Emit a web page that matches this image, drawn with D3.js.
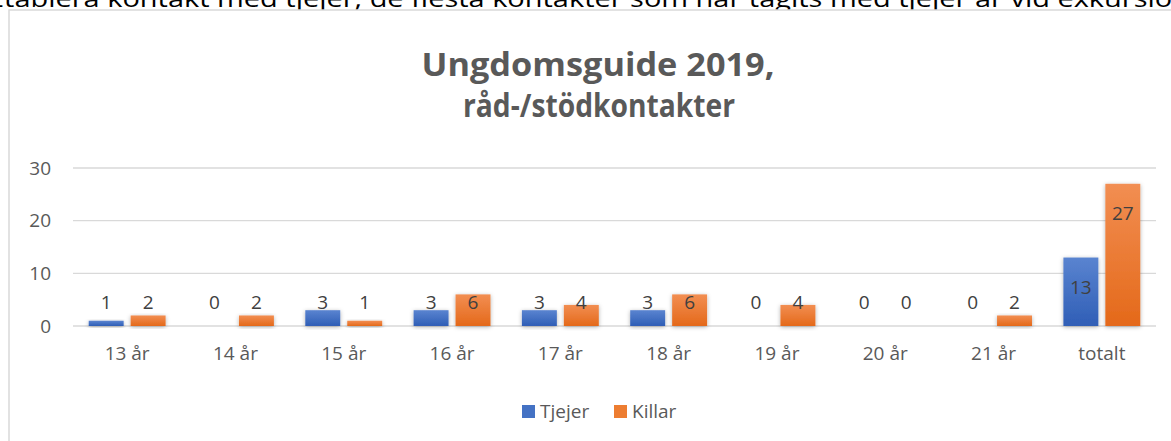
<!DOCTYPE html>
<html>
<head>
<meta charset="utf-8">
<script src="https://cdn.jsdelivr.net/npm/d3@7"></script>
<style>
  body { margin: 0; background: #fff; }
  svg { display: block; font-family: 'Open Sans', sans-serif; }
</style>
</head>
<body>
<div id="chart"></div>
<script>
var categories = ['13 år', '14 år', '15 år', '16 år', '17 år', '18 år', '19 år', '20 år', '21 år', 'totalt'];
var tjejer = [1, 0, 3, 3, 3, 3, 0, 0, 0, 13];
var killar = [2, 2, 1, 6, 4, 6, 4, 0, 2, 27];
var seriesNames = ['Tjejer', 'Killar'];
var yTicks = [0, 10, 20, 30];

var width = 1171, height = 441;

var svg = d3.select('#chart').append('svg')
    .attr('width', width)
    .attr('height', height);

var defs = svg.append('defs');
function grad(id, top, bottom) {
  var g = defs.append('linearGradient').attr('id', id)
      .attr('x1', 0).attr('y1', 0).attr('x2', 0).attr('y2', 1);
  g.append('stop').attr('offset', '0%').attr('stop-color', top);
  g.append('stop').attr('offset', '100%').attr('stop-color', bottom);
}
grad('gBlue', '#5a84d0', '#2f5eb6');
grad('gOrange', '#f28e52', '#e4691a');
var f = defs.append('filter').attr('id', 'shadow')
    .attr('x', '-20%').attr('y', '-20%').attr('width', '140%').attr('height', '140%');
f.append('feDropShadow').attr('dx', 0).attr('dy', 1).attr('stdDeviation', 2)
    .attr('flood-color', '#000').attr('flood-opacity', 0.3);

// cut-off line of text above the chart
svg.append('text')
    .attr('x', -12).attr('y', 7)
    .attr('textLength', 1230).attr('lengthAdjust', 'spacingAndGlyphs')
    .style('font-size', '24px').style('fill', '#000')
    .text('Etablera kontakt med tjejer, de flesta kontakter som har tagits med tjejer är vid exkursioner');

// chart frame
svg.append('rect')
    .attr('x', 9).attr('y', 10).attr('width', 1250).attr('height', 500)
    .style('fill', '#fff').style('stroke', '#d9d9d9').style('stroke-width', 1.5);

// title
var title = svg.append('g').style('fill', '#595959').style('font-weight', 700)
    .style('font-size', '33px').attr('text-anchor', 'middle');
title.append('text').attr('x', 598).attr('y', 76)
    .attr('textLength', 353).attr('lengthAdjust', 'spacingAndGlyphs')
    .text('Ungdomsguide 2019,');
title.append('text').attr('x', 599).attr('y', 117)
    .attr('textLength', 272).attr('lengthAdjust', 'spacingAndGlyphs')
    .text('råd-/stödkontakter');

var x = d3.scaleBand().domain(categories).range([73, 1156])
    .paddingInner(0.29).paddingOuter(0.145);
var xs = d3.scaleBand().domain(seriesNames).range([0, x.bandwidth()]).paddingInner(0.167);
var y = d3.scaleLinear().domain([0, 30]).range([326, 168]);
var color = d3.scaleOrdinal().domain(seriesNames).range(['url(#gBlue)', 'url(#gOrange)']);
var legendColor = d3.scaleOrdinal().domain(seriesNames).range(['#4472c4', '#ed7d31']);

// grid
svg.append('g').selectAll('line').data(yTicks).enter().append('line')
    .attr('x1', 73).attr('x2', 1156)
    .attr('y1', function(d) { return y(d); })
    .attr('y2', function(d) { return y(d); })
    .style('stroke', '#d9d9d9')
    .style('stroke-width', function(d) { return d === 0 ? 1.6 : 1.3; });

var yAxis = d3.axisLeft(y).tickValues(yTicks).tickSize(0).tickPadding(0);
svg.append('g').attr('transform', 'translate(51,0)').call(yAxis)
    .call(function(g) { g.select('.domain').remove(); })
    .selectAll('text')
    .style('font-size', '19px').style('fill', '#595959').style('font-family', 'Open Sans');

var xAxis = d3.axisBottom(x).tickSize(0).tickPadding(0);
svg.append('g').attr('transform', 'translate(0,' + (y(0) + 20) + ')').call(xAxis)
    .call(function(g) { g.select('.domain').remove(); })
    .selectAll('text')
    .style('font-size', '19px').style('fill', '#595959').style('font-family', 'Open Sans');

var rows = categories.map(function(c, i) {
  return { cat: c, values: [
    { name: 'Tjejer', value: tjejer[i], cat: c },
    { name: 'Killar', value: killar[i], cat: c }
  ]};
});

var group = svg.append('g').selectAll('.grp')
    .data(rows)
  .enter().append('g')
    .attr('class', 'grp')
    .attr('transform', function(d) { return 'translate(' + x(d.cat) + ',0)'; });

group.selectAll('rect')
    .data(function(d) { return d.values.filter(function(v) { return v.value > 0; }); })
  .enter().append('rect')
    .attr('x', function(d) { return xs(d.name); })
    .attr('width', xs.bandwidth())
    .attr('y', function(d) { return y(d.value); })
    .attr('height', function(d) { return y(0) - y(d.value); })
    .style('fill', function(d) { return color(d.name); })
    .attr('filter', 'url(#shadow)');

group.selectAll('text.val')
    .data(function(d) { return d.values; })
  .enter().append('text')
    .attr('class', 'val')
    .attr('x', function(d) { return xs(d.name) + xs.bandwidth() / 2; })
    .attr('y', function(d) {
      // totals sit inside the bar top, the rest on one row above the axis
      return d.cat === 'totalt' ? y(d.value) + 36 : y(0) - 17;
    })
    .attr('text-anchor', 'middle')
    .style('font-size', '19px').style('fill', '#404040')
    .text(function(d) { return d.value; });

// legend
var legend = svg.append('g').attr('transform', 'translate(522,405)');
var li = legend.selectAll('g').data(seriesNames).enter().append('g')
    .attr('transform', function(d, i) { return 'translate(' + (i * 92) + ',0)'; });
li.append('rect').attr('width', 13).attr('height', 13)
    .style('fill', function(d) { return legendColor(d); });
li.append('text').attr('x', 18).attr('y', 13)
    .style('font-size', '19px').style('fill', '#595959')
    .text(function(d) { return d; });
</script>
</body>
</html>
